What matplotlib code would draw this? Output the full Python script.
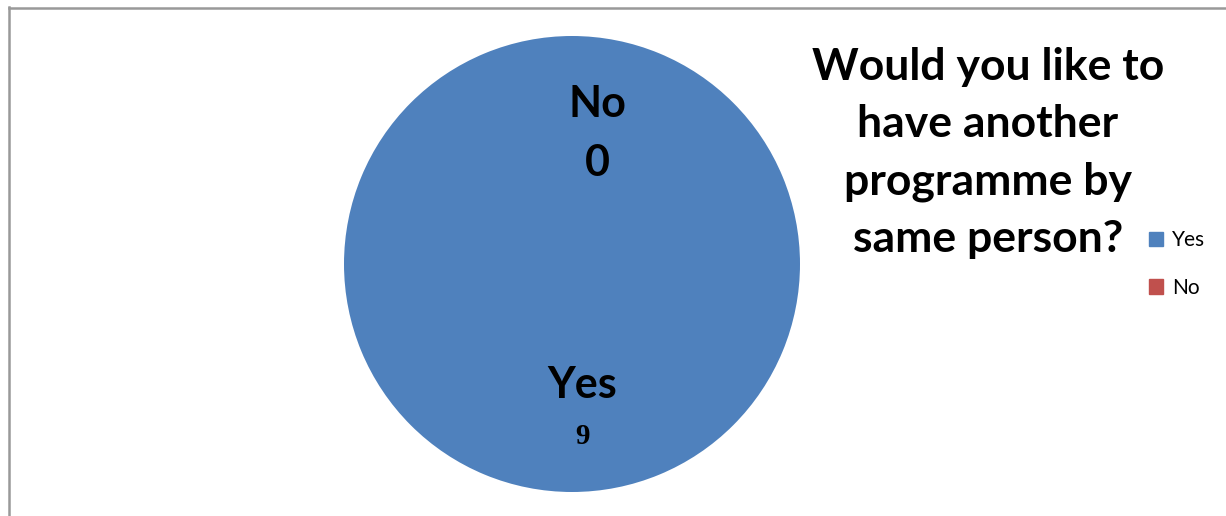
import matplotlib.pyplot as plt
from matplotlib.patches import Patch
from matplotlib.lines import Line2D

labels = ["Yes", "No"]
values = [9, 0]
colors = ["#4F81BD", "#C0504D"]
title = "Would you like to\nhave another\nprogramme by\nsame person?"

fig = plt.figure(figsize=(12.26, 5.16), dpi=100)
fig.patch.set_facecolor("white")

# frame lines on left and top (chart border)
fig.add_artist(Line2D([8.5 / 1226, 8.5 / 1226], [0, 1 - 7 / 516], color="#999999", lw=1.8))
fig.add_artist(Line2D([8.5 / 1226, 1], [1 - 7.5 / 516, 1 - 7.5 / 516], color="#999999", lw=1.8))

ax = fig.add_axes([344 / 1226, 24 / 516, 456 / 1226, 456 / 516])
ax.pie(values, colors=colors, startangle=90, counterclock=False, radius=1)
ax.set_xlim(-1, 1)
ax.set_ylim(-1, 1)
ax.set_aspect("equal")

fnt = "Lato"
# data labels
ax.text(0.11, 0.70, "No", ha="center", va="center", fontsize=31, fontweight="bold", family=fnt)
ax.text(0.11, 0.445, str(values[1]), ha="center", va="center", fontsize=31, fontweight="bold", family=fnt)
ax.text(0.045, -0.53, "Yes", ha="center", va="center", fontsize=31, fontweight="bold", family=fnt)
ax.text(0.045, -0.755, str(values[0]), ha="center", va="center", fontsize=21, fontweight="bold", family="Liberation Serif")

fig.text(988 / 1226, 1 - 153 / 516, title, ha="center", va="center", fontsize=32, fontweight="bold",
         family=fnt, linespacing=1.52)

handles = [Patch(facecolor=c, edgecolor=c) for c in colors]
fig.legend(handles, labels, loc="center left", bbox_to_anchor=(1130 / 1226, 1 - 264 / 516),
           frameon=False, handlelength=0.7, handleheight=0.7, handletextpad=0.4,
           labelspacing=1.3, prop={"family": "Lato", "size": 15})

fig.savefig("out.png", dpi=100)
